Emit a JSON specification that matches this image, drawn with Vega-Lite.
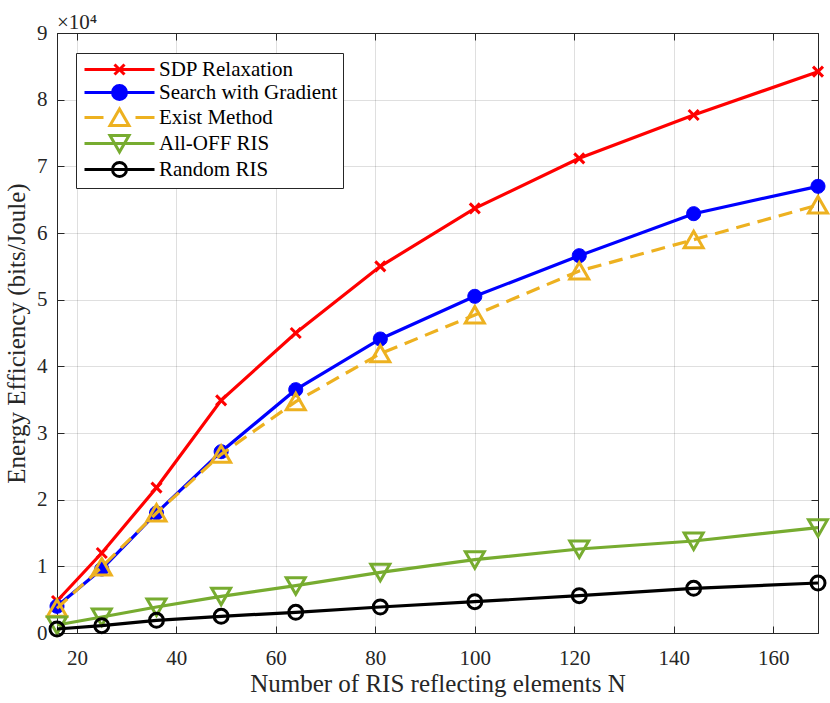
{
  "$schema": "https://vega.github.io/schema/vega-lite/v6.json",
  "width": 761,
  "height": 600,
  "autosize": "none",
  "padding": {"left": 57, "top": 33, "right": 12, "bottom": 70},
  "background": "white",
  "title": {
    "text": "×10⁴",
    "anchor": "start",
    "frame": "group",
    "offset": -11,
    "font": "Liberation Serif",
    "fontSize": 21,
    "fontWeight": "normal",
    "color": "#262626"
  },
  "config": {
    "font": "Liberation Serif",
    "view": {"stroke": "#262626", "strokeWidth": 1},
    "axis": {
      "labelFont": "Liberation Serif",
      "labelFontSize": 21,
      "labelColor": "#262626",
      "titleFont": "Liberation Serif",
      "titleFontSize": 25,
      "titleFontWeight": "normal",
      "titleColor": "#262626",
      "domainColor": "#262626",
      "tickColor": "#262626",
      "tickSize": -7,
      "gridColor": "#262626",
      "gridOpacity": 0.15
    },
    "legend": {
      "labelFont": "Liberation Serif",
      "labelFontSize": 21,
      "labelColor": "#000000",
      "labelLimit": 400
    }
  },
  "data": {
    "values": [
      {"N": 16, "series": "SDP Relaxation", "EE": 4800},
      {"N": 25, "series": "SDP Relaxation", "EE": 12000},
      {"N": 36, "series": "SDP Relaxation", "EE": 21800},
      {"N": 49, "series": "SDP Relaxation", "EE": 34900},
      {"N": 64, "series": "SDP Relaxation", "EE": 45000},
      {"N": 81, "series": "SDP Relaxation", "EE": 55000},
      {"N": 100, "series": "SDP Relaxation", "EE": 63700},
      {"N": 121, "series": "SDP Relaxation", "EE": 71200},
      {"N": 144, "series": "SDP Relaxation", "EE": 77700},
      {"N": 169, "series": "SDP Relaxation", "EE": 84200},
      {"N": 16, "series": "Search with Gradient", "EE": 4000},
      {"N": 25, "series": "Search with Gradient", "EE": 9600},
      {"N": 36, "series": "Search with Gradient", "EE": 18000},
      {"N": 49, "series": "Search with Gradient", "EE": 27200},
      {"N": 64, "series": "Search with Gradient", "EE": 36500},
      {"N": 81, "series": "Search with Gradient", "EE": 44100},
      {"N": 100, "series": "Search with Gradient", "EE": 50500},
      {"N": 121, "series": "Search with Gradient", "EE": 56600},
      {"N": 144, "series": "Search with Gradient", "EE": 62900},
      {"N": 169, "series": "Search with Gradient", "EE": 67000},
      {"N": 16, "series": "Exist Method", "EE": 3700},
      {"N": 25, "series": "Exist Method", "EE": 9900},
      {"N": 36, "series": "Exist Method", "EE": 18000},
      {"N": 49, "series": "Exist Method", "EE": 26800},
      {"N": 64, "series": "Exist Method", "EE": 34700},
      {"N": 81, "series": "Exist Method", "EE": 41900},
      {"N": 100, "series": "Exist Method", "EE": 47700},
      {"N": 121, "series": "Exist Method", "EE": 54300},
      {"N": 144, "series": "Exist Method", "EE": 59000},
      {"N": 169, "series": "Exist Method", "EE": 64200},
      {"N": 16, "series": "All-OFF RIS", "EE": 1200},
      {"N": 25, "series": "All-OFF RIS", "EE": 2400},
      {"N": 36, "series": "All-OFF RIS", "EE": 3900},
      {"N": 49, "series": "All-OFF RIS", "EE": 5500},
      {"N": 64, "series": "All-OFF RIS", "EE": 7100},
      {"N": 81, "series": "All-OFF RIS", "EE": 9100},
      {"N": 100, "series": "All-OFF RIS", "EE": 11000},
      {"N": 121, "series": "All-OFF RIS", "EE": 12600},
      {"N": 144, "series": "All-OFF RIS", "EE": 13800},
      {"N": 169, "series": "All-OFF RIS", "EE": 15800},
      {"N": 16, "series": "Random RIS", "EE": 600},
      {"N": 25, "series": "Random RIS", "EE": 1100},
      {"N": 36, "series": "Random RIS", "EE": 1900},
      {"N": 49, "series": "Random RIS", "EE": 2500},
      {"N": 64, "series": "Random RIS", "EE": 3100},
      {"N": 81, "series": "Random RIS", "EE": 3900},
      {"N": 100, "series": "Random RIS", "EE": 4700},
      {"N": 121, "series": "Random RIS", "EE": 5600},
      {"N": 144, "series": "Random RIS", "EE": 6700},
      {"N": 169, "series": "Random RIS", "EE": 7500}
    ]
  },
  "encoding": {
    "x": {
      "field": "N",
      "type": "quantitative",
      "scale": {"domain": [16, 169], "nice": false, "zero": false},
      "axis": null
    },
    "y": {
      "field": "EE",
      "type": "quantitative",
      "scale": {"domain": [0, 90000], "nice": false},
      "axis": null
    }
  },
  "resolve": {"axis": {"x": "independent", "y": "independent"}},
  "layer": [
    {
      "transform": [{"filter": "datum.N < 0"}],
      "mark": {"type": "point"},
      "encoding": {
        "x": {
          "field": "N",
          "type": "quantitative",
          "axis": {
            "orient": "bottom",
            "values": [20, 40, 60, 80, 100, 120, 140, 160],
            "grid": true,
            "labelPadding": 21,
            "title": "Number of RIS reflecting elements N",
            "titlePadding": 3
          }
        },
        "y": {
          "field": "EE",
          "type": "quantitative",
          "axis": {
            "orient": "left",
            "values": [0, 10000, 20000, 30000, 40000, 50000, 60000, 70000, 80000, 90000],
            "labelExpr": "format(datum.value / 10000, 'd')",
            "grid": true,
            "labelPadding": 17,
            "title": "Energy Efficiency (bits/Joule)",
            "titlePadding": 7
          }
        }
      }
    },
    {
      "transform": [{"filter": "datum.N < 0"}],
      "mark": {"type": "point"},
      "encoding": {
        "x": {
          "field": "N",
          "type": "quantitative",
          "axis": {"orient": "top", "values": [20, 40, 60, 80, 100, 120, 140, 160], "labels": false, "grid": false, "title": null}
        },
        "y": {
          "field": "EE",
          "type": "quantitative",
          "axis": {"orient": "right", "values": [0, 10000, 20000, 30000, 40000, 50000, 60000, 70000, 80000, 90000], "labels": false, "grid": false, "title": null}
        }
      }
    },
    {
      "transform": [{"filter": "datum.series == 'SDP Relaxation'"}],
      "layer": [
        {"mark": {"type": "line", "strokeWidth": 3.2, "stroke": "#FF0000"}},
        {"mark": {"type": "point", "shape": "M-0.5,-0.5L0.5,0.5M-0.5,0.5L0.5,-0.5", "size": 400, "strokeWidth": 3, "stroke": "#FF0000", "opacity": 1}}
      ]
    },
    {
      "transform": [{"filter": "datum.series == 'Search with Gradient'"}],
      "layer": [
        {"mark": {"type": "line", "strokeWidth": 3.2, "stroke": "#0000FF"}},
        {"mark": {"type": "point", "shape": "M-0.7,0A0.7,0.7 0 1,0 0.7,0A0.7,0.7 0 1,0 -0.7,0Z", "size": 400, "strokeWidth": 1, "stroke": "#0000FF", "fill": "#0000FF", "filled": true, "opacity": 1}}
      ]
    },
    {
      "transform": [{"filter": "datum.series == 'Exist Method'"}],
      "layer": [
        {"mark": {"type": "line", "strokeWidth": 3.2, "stroke": "#EDB120", "strokeDash": [14, 8]}},
        {"mark": {"type": "point", "shape": "M0,-0.85L0.95,0.8L-0.95,0.8Z", "size": 400, "strokeWidth": 3, "stroke": "#EDB120", "opacity": 1}}
      ]
    },
    {
      "transform": [{"filter": "datum.series == 'All-OFF RIS'"}],
      "layer": [
        {"mark": {"type": "line", "strokeWidth": 3.2, "stroke": "#77AC30"}},
        {"mark": {"type": "point", "shape": "M0,0.85L0.95,-0.8L-0.95,-0.8Z", "size": 400, "strokeWidth": 3, "stroke": "#77AC30", "opacity": 1}}
      ]
    },
    {
      "transform": [{"filter": "datum.series == 'Random RIS'"}],
      "layer": [
        {"mark": {"type": "line", "strokeWidth": 3.2, "stroke": "#000000"}},
        {"mark": {"type": "point", "shape": "M-0.7,0A0.7,0.7 0 1,0 0.7,0A0.7,0.7 0 1,0 -0.7,0Z", "size": 400, "strokeWidth": 3, "stroke": "#000000", "opacity": 1}}
      ]
    },
    {
      "transform": [{"filter": "datum.N < 0"}],
      "mark": {"type": "point", "size": 400, "strokeWidth": 3, "filled": true, "opacity": 1},
      "encoding": {
        "shape": {
          "field": "series",
          "type": "nominal",
          "scale": {
            "domain": ["SDP Relaxation", "Search with Gradient", "Exist Method", "All-OFF RIS", "Random RIS"],
            "range": [
              "M-3.5,0H3.5M-0.5,-0.5L0.5,0.5M-0.5,0.5L0.5,-0.5",
              "M-3.5,0H3.5M-0.7,0A0.7,0.7 0 1,0 0.7,0A0.7,0.7 0 1,0 -0.7,0Z",
              "M-3.5,0H-1.6M1.6,0H3.5M0,-0.85L0.95,0.8L-0.95,0.8Z",
              "M-3.5,0H3.5M0,0.85L0.95,-0.8L-0.95,-0.8Z",
              "M-3.5,0H3.5M-0.7,0A0.7,0.7 0 1,0 0.7,0A0.7,0.7 0 1,0 -0.7,0Z"
            ]
          },
          "legend": {
            "title": null,
            "orient": "none",
            "legendX": 19,
            "legendY": 20,
            "padding": 5,
            "fillColor": "white",
            "strokeColor": "#262626",
            "labelFont": "Liberation Serif",
            "labelFontSize": 21,
            "labelOffset": 28,
            "symbolOffset": 27,
            "symbolSize": 400,
            "symbolStrokeWidth": 3,
            "rowPadding": -3
          }
        },
        "stroke": {
          "field": "series",
          "type": "nominal",
          "scale": {
            "domain": ["SDP Relaxation", "Search with Gradient", "Exist Method", "All-OFF RIS", "Random RIS"],
            "range": ["#FF0000", "#0000FF", "#EDB120", "#77AC30", "#000000"]
          }
        },
        "fill": {
          "field": "series",
          "type": "nominal",
          "scale": {
            "domain": ["SDP Relaxation", "Search with Gradient", "Exist Method", "All-OFF RIS", "Random RIS"],
            "range": ["transparent", "#0000FF", "#FFFFFF", "transparent", "transparent"]
          }
        }
      }
    }
  ]
}
